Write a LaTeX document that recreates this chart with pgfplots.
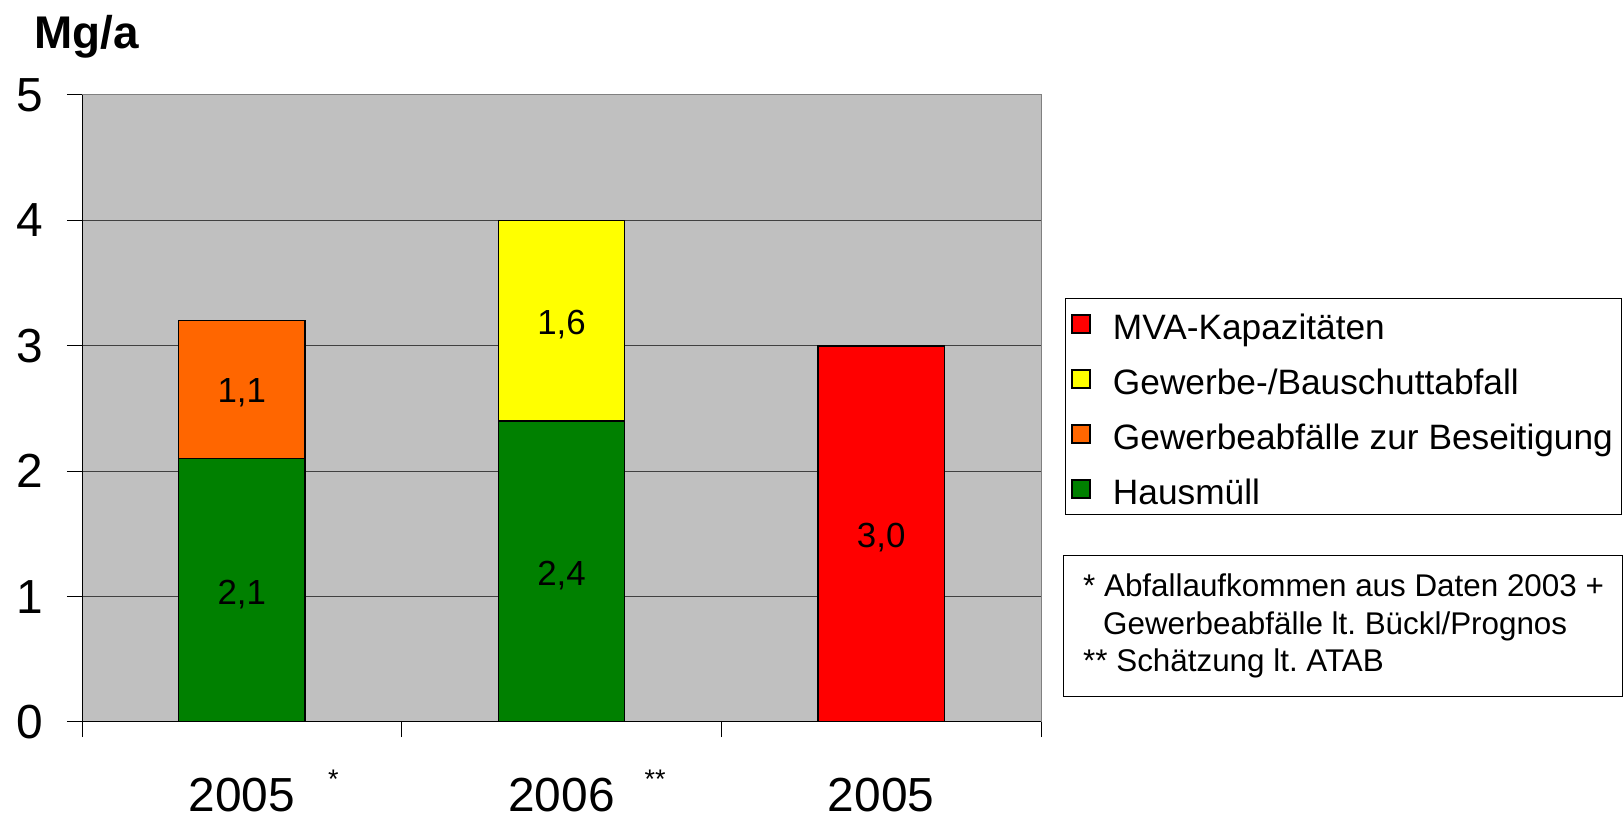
\documentclass[border=0pt]{standalone}
\usepackage{pgfplots}
\pgfplotsset{compat=1.18}
\usepackage{fontspec}
\setmainfont{Liberation Sans}
\frenchspacing
\definecolor{bgray}{HTML}{C0C0C0}
\definecolor{frame}{HTML}{808080}
\definecolor{gridc}{HTML}{404040}
\definecolor{cgreen}{HTML}{008000}
\definecolor{corange}{HTML}{FF6600}
\definecolor{cyellow}{HTML}{FFFF00}
\definecolor{cred}{HTML}{FF0000}
\pgfplotsset{mylegend/.style={legend image code/.code={\draw[##1,line width=1.5bp] (0bp,-9bp) rectangle (18bp,9bp);}}}
\newcommand{\sstar}[1]{\rlap{\hspace{#1}\raisebox{23bp}[0pt][0pt]{\fontsize{27}{27}\selectfont *}}}
\begin{document}
\begin{tikzpicture}
\useasboundingbox (0,0) rectangle (1624bp,819bp);
\begin{axis}[
  at={(82bp,97bp)}, anchor=south west,
  scale only axis, width=959bp, height=627bp,
  xmin=-0.5, xmax=2.5, ymin=0, ymax=5,
  ybar stacked, bar width=0.395,
  axis background/.style={fill=bgray},
  axis line style={draw=frame, line width=1bp},
  xtick={-0.5,0.5,1.5,2.5}, xticklabels={},
  ytick={0,1,2,3,4,5},
  xtick pos=bottom, ytick pos=left,
  tick align=outside, major tick length=15bp,
  tick style={black, line width=1bp},
  ymajorgrids, major grid style={gridc, line width=1bp},
  /pgf/number format/assume math mode=true,
  yticklabel style={font=\fontsize{48}{56}\selectfont, xshift=-20bp},
  extra x ticks={0,1,2},
  extra x tick labels={2005\sstar{33bp},2006\rlap{\hspace{30bp}\raisebox{23bp}[0pt][0pt]{\fontsize{27}{27}\selectfont **}},2005},
  extra x tick style={major tick length=0pt, grid=none, xticklabel style={font=\fontsize{48}{56}\selectfont, yshift=-53bp}},
  reverse legend,
  legend style={at={(1.025,0.676)}, anchor=north west, draw=black, line width=1bp,
    font=\fontsize{35.4}{42}\selectfont, row sep=14bp, column sep=19bp, inner xsep=6bp, inner ysep=5bp,
    nodes={inner sep=3bp, text height=33bp, text depth=2bp}},
  legend cell align=left,
]
\addplot[fill=cgreen, draw=black, line width=1.5bp, mylegend] coordinates {(0,2.1) (1,2.4) (2,0)};
\addplot[fill=corange, draw=black, line width=1.5bp, mylegend] coordinates {(0,1.1) (1,0) (2,0)};
\addplot[fill=cyellow, draw=black, line width=1.5bp, mylegend] coordinates {(0,0) (1,1.6) (2,0)};
\addplot[fill=cred, draw=black, line width=1.5bp, mylegend] coordinates {(0,0) (1,0) (2,3.0)};
\legend{Hausmüll, Gewerbeabfälle zur Beseitigung, Gewerbe-/Bauschuttabfall, MVA-Kapazitäten}
\draw[black, line width=1.2bp] (rel axis cs:0,1) -- (rel axis cs:0,0) -- (rel axis cs:1,0);
\coordinate (l1) at (axis cs:0,1.05);
\coordinate (l2) at (axis cs:0,2.66);
\coordinate (l3) at (axis cs:1,1.2);
\coordinate (l4) at (axis cs:1,3.2);
\coordinate (l5) at (axis cs:2,1.5);
\end{axis}
\foreach \p/\t in {l1/{2,1},l2/{1,1},l3/{2,4},l4/{1,6},l5/{3,0}}
  \node[font=\fontsize{35}{42}\selectfont, inner sep=0pt, yshift=-4bp] at (\p) {\t};
\node[anchor=base west, inner sep=0pt, font=\bfseries\fontsize{46}{46}\selectfont] at (34bp,770bp) {Mg/a};
\draw[black, line width=1bp] (1063bp,263bp) rectangle (1622bp,122bp);
\node[anchor=west, inner sep=0pt, align=left,
  font=\fontsize{31.5}{38}\selectfont] at (1083bp,193bp)
  {* Abfallaufkommen aus Daten 2003 +\\\hspace*{20bp}Gewerbeabfälle lt. Bückl/Prognos\\{}** Schätzung lt. ATAB};
\end{tikzpicture}
\end{document}
